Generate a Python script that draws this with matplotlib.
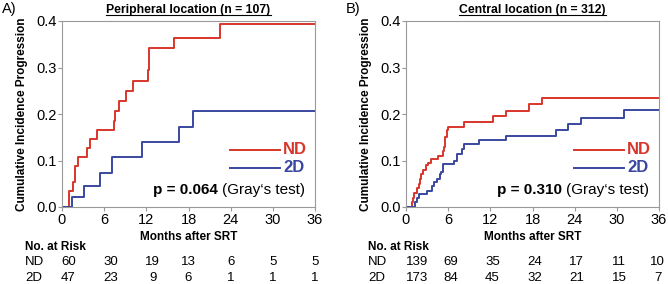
import matplotlib.pyplot as plt
from matplotlib import transforms

plt.rcParams['font.family'] = ['Liberation Sans', 'DejaVu Sans']

RED = '#d8362b'
BLUE = '#3947a0'

# Peripheral location: step times (months) and cumulative incidence
per_nd_t = [0, 0.95, 1.56, 1.9, 2.23, 3.55, 4.03, 4.98, 7.44, 7.54, 8.06, 9.1, 10.1, 12.18, 12.32, 15.88, 22.5, 36]
per_nd_y = [0, 0.034, 0.053, 0.088, 0.107, 0.127, 0.146, 0.165, 0.184, 0.206, 0.227, 0.249, 0.271, 0.295, 0.341, 0.364, 0.393, 0.393]
per_2d_t = [0, 1.4, 3.08, 5.45, 7.1, 11.4, 16.7, 18.6, 36]
per_2d_y = [0, 0.021, 0.046, 0.074, 0.107, 0.139, 0.172, 0.206, 0.206]

# Central location
cen_nd_t = [0, 0.8, 1.0, 1.2, 1.6, 1.9, 2.0, 2.2, 2.4, 2.8, 3.1, 3.5, 4.5, 5.2, 5.4, 5.6, 5.8, 6.0, 8.25, 12.4, 14.2, 17.5, 19.3, 36]
cen_nd_y = [0, 0.01, 0.02, 0.03, 0.04, 0.05, 0.06, 0.07, 0.08, 0.09, 0.095, 0.103, 0.11, 0.12, 0.13, 0.15, 0.165, 0.173, 0.183, 0.195, 0.207, 0.221, 0.234, 0.234]
cen_2d_t = [0, 1.3, 1.5, 1.8, 3.0, 3.7, 4.0, 4.4, 4.8, 5.0, 5.3, 6.9, 7.2, 8.0, 8.3, 10.4, 14.3, 21.4, 23.1, 24.9, 31.0, 36]
cen_2d_y = [0, 0.01, 0.02, 0.029, 0.035, 0.045, 0.053, 0.06, 0.07, 0.075, 0.092, 0.1, 0.113, 0.125, 0.136, 0.144, 0.153, 0.166, 0.178, 0.191, 0.209, 0.209]

risk_times = [0, 6, 12, 18, 24, 30, 36]
per_nd_risk = [60, 30, 19, 13, 6, 5, 5]
per_2d_risk = [47, 23, 9, 6, 1, 1, 1]
cen_nd_risk = [139, 69, 35, 24, 17, 11, 10]
cen_2d_risk = [173, 84, 45, 32, 21, 15, 7]

panels = [
    ('A)', 'Peripheral location (n = 107)', per_nd_t, per_nd_y, per_2d_t, per_2d_y,
     per_nd_risk, per_2d_risk, '0.064', 62),
    ('B)', 'Central location (n = 312)', cen_nd_t, cen_nd_y, cen_2d_t, cen_2d_y,
     cen_nd_risk, cen_2d_risk, '0.310', 406),
]

W, H = 668, 284
fig = plt.figure(figsize=(W / 100, H / 100), dpi=100)

for lab, title, nt, ny, bt, by, nr, br, p, x0 in panels:
    ax = fig.add_axes([x0 / W, 1 - 207 / H, 253 / W, 186 / H])
    ax.step(nt, ny, where='post', color=RED, lw=1.4)
    ax.step(bt, by, where='post', color=BLUE, lw=1.4)
    ax.set_xlim(0, 36)
    ax.set_ylim(0, 0.4)
    ax.set_xticks(risk_times)
    ax.set_yticks([0, 0.1, 0.2, 0.3, 0.4])
    ax.set_yticklabels(['0.0', '0.1', '0.2', '0.3', '0.4'])
    ax.tick_params(labelsize=10.5, length=3, color='#999999', pad=1)
    for s in ax.spines.values():
        s.set_color('#999999')
    ax.set_xlabel('Months after SRT', fontsize=8.5, fontweight='bold', labelpad=3)
    ax.set_ylabel('Cumulative Incidence Progression', fontsize=8.5, fontweight='bold')
    ax.yaxis.set_label_coords(-34 / 253, 0.5)
    ax.set_title(title, fontsize=8.8, fontweight='bold', pad=6)
    # legend-like lines
    ax.plot([23.9, 31.0], [0.123, 0.123], color=RED, lw=1.4)
    ax.plot([23.9, 31.0], [0.084, 0.084], color=BLUE, lw=1.4)
    ax.text(31.5, 0.123, 'ND', color=RED, fontsize=12, fontweight='bold', va='center')
    ax.text(31.5, 0.084, '2D', color=BLUE, fontsize=12, fontweight='bold', va='center')
    gt = ax.text(34.6, 0.037, '(Gray\u2018s test)', fontsize=11, ha='right', va='center')
    ax.annotate('p = ' + p + ' ', xy=(0, 0.5), xycoords=gt, fontsize=11,
                fontweight='bold', ha='right', va='center')
    fig.text((x0 - 60) / W, 1 - 9 / H, lab, fontsize=10.5, va='center')
    # risk table
    tr = transforms.blended_transform_factory(ax.transData, fig.transFigure)
    lx = 25 if x0 == 62 else x0 - 38
    fig.text(lx / W, 1 - 247 / H, 'No. at Risk', fontsize=8.5, fontweight='bold', va='center')
    fig.text(lx / W, 1 - 262 / H, 'ND', fontsize=9.5, va='center')
    fig.text(lx / W, 1 - 278 / H, '2D', fontsize=9.5, va='center')
    for i, (tm, a, b) in enumerate(zip(risk_times, nr, br)):
        off = 0.9 if i < 3 else 0.0
        if x0 != 62:
            off = 1.6 if i == 0 else (-0.2 if i == 6 else 0.3)
        ax.text(tm + off, 1 - 262 / H, str(a), transform=tr, fontsize=9.5, ha='center', va='center')
        ax.text(tm + off, 1 - 278 / H, str(b), transform=tr, fontsize=9.5, ha='center', va='center')

# underline titles
fig.canvas.draw()
for ax in fig.axes:
    bb = ax.title.get_window_extent().transformed(fig.transFigure.inverted())
    fig.add_artist(plt.Line2D([bb.x0, bb.x1], [bb.y0 + 0.004, bb.y0 + 0.004], color='black', lw=0.8))

fig.savefig('out.png', dpi=100)
